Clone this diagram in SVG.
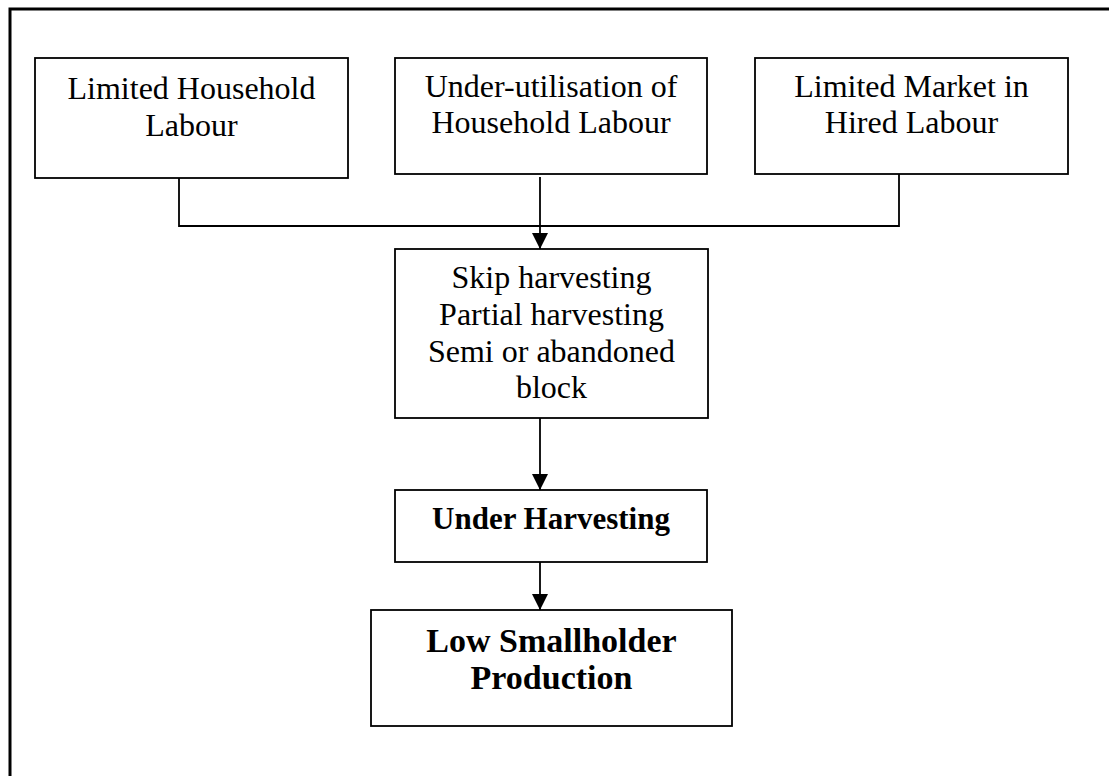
<svg xmlns="http://www.w3.org/2000/svg" width="1109" height="776" viewBox="0 0 1109 776">
<style>
.box{fill:#fff;stroke:#000;stroke-width:1.8}
.t{font-family:"Liberation Serif","Times New Roman",serif;font-size:32px;text-anchor:middle;fill:#000}
.b{font-weight:bold;font-size:31px}
.c{fill:none;stroke:#000;stroke-width:1.8}
</style>
<defs>
<marker id="ah" markerWidth="16" markerHeight="16" refX="16" refY="8" orient="auto" markerUnits="userSpaceOnUse">
<path d="M0,0 L16,8 L0,16 Z" fill="#000"/>
</marker>
</defs>
<rect x="10" y="9" width="1120" height="800" fill="#fff" stroke="#000" stroke-width="3"/>
<g id="n1">
<rect class="box" x="35" y="58" width="313" height="120"/>
<text class="t" x="191.5" y="99">Limited Household</text>
<text class="t" x="191.5" y="136">Labour</text>
</g>
<g id="n2">
<rect class="box" x="395" y="58" width="312" height="116"/>
<text class="t" x="551" y="97">Under-utilisation of</text>
<text class="t" x="551" y="133">Household Labour</text>
</g>
<g id="n3">
<rect class="box" x="755" y="58" width="313" height="116"/>
<text class="t" x="911.5" y="97">Limited Market in</text>
<text class="t" x="911.5" y="133">Hired Labour</text>
</g>
<g id="n4">
<rect class="box" x="395" y="249" width="313" height="169"/>
<text class="t" x="551.5" y="288">Skip harvesting</text>
<text class="t" x="551.5" y="325">Partial harvesting</text>
<text class="t" x="551.5" y="362">Semi or abandoned</text>
<text class="t" x="551.5" y="398">block</text>
</g>
<g id="n5">
<rect class="box" x="395" y="490" width="312" height="72"/>
<text class="t b" x="551" y="529">Under Harvesting</text>
</g>
<g id="n6">
<rect class="box" x="371" y="610" width="361" height="116"/>
<text class="t b" x="551.5" y="652" style="font-size:34px">Low Smallholder</text>
<text class="t b" x="551.5" y="689" style="font-size:34px">Production</text>
</g>
<g id="connectors">
<path class="c" d="M179,178 V226 H899 V174"/>
<line class="c" x1="540" y1="177" x2="540" y2="249" marker-end="url(#ah)"/>
<line class="c" x1="540" y1="418" x2="540" y2="490" marker-end="url(#ah)"/>
<line class="c" x1="540" y1="562" x2="540" y2="610" marker-end="url(#ah)"/>
</g>
</svg>
